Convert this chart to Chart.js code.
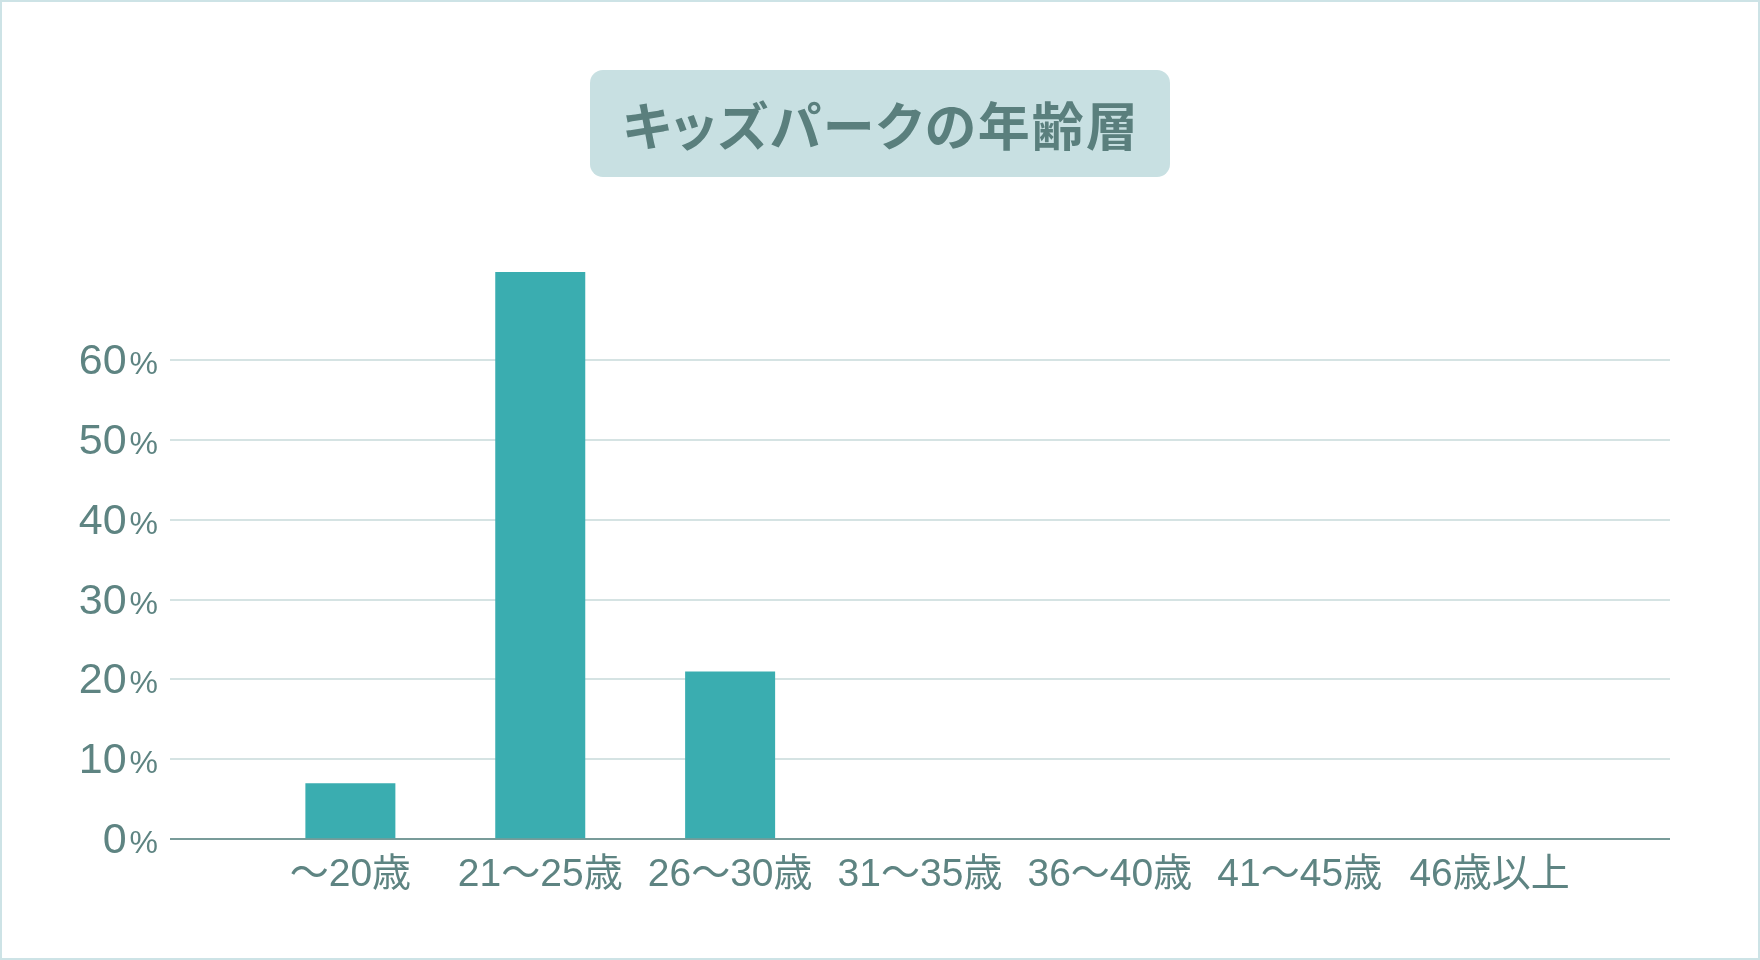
<!DOCTYPE html>
<html lang="ja">
<head>
<meta charset="utf-8">
<title>キッズパークの年齢層</title>
<script src="https://cdn.jsdelivr.net/npm/chart.js@4.4.1/dist/chart.umd.min.js"></script>
<style>
  body { margin: 0; background: #fff; }
  #wrap {
    position: relative;
    width: 1760px; height: 960px;
    box-sizing: border-box;
    border: 2px solid #cde3e6;
    overflow: hidden;
  }
  #chart { position: absolute; left: -2px; top: -2px; }
  #title {
    position: absolute;
    left: 588px; top: 68px;
    width: 580px; height: 107px;
    box-sizing: border-box;
    padding-left: 2px;
    border-radius: 13px;
    background: #c8e0e2;
    color: #5a7f7d;
    font: bold 52px "Noto Sans CJK JP", sans-serif;
    font-feature-settings: "palt";
    letter-spacing: 2px;
    line-height: 107px;
    text-align: center;
  }
</style>
</head>
<body>
<div id="wrap">
  <canvas id="chart" width="1760" height="960"></canvas>
  <div id="title">キッズパークの年齢層</div>
</div>
<script>
// age groups and share of visitors (%)
const categories = ["〜20歳", "21〜25歳", "26〜30歳", "31〜35歳", "36〜40歳", "41〜45歳", "46歳以上"];
const shares = [7, 71, 21, 0, 0, 0, 0];
const yTickValues = [0, 10, 20, 30, 40, 50, 60];

const textColor = "#5e8482";

// y labels: big number + smaller "%"
const yLabels = {
  id: "yLabels",
  afterDraw(chart) {
    let ctx = chart.ctx;
    let y = chart.scales.y;
    let right = chart.chartArea.left - 12;
    ctx.save();
    ctx.fillStyle = textColor;
    ctx.textAlign = "right";
    ctx.textBaseline = "alphabetic";
    y.ticks.forEach(t => {
      let py = y.getPixelForValue(t.value) + 14;
      ctx.font = '32px "Liberation Sans", Arial, sans-serif';
      ctx.fillText("%", right, py);
      let w = ctx.measureText("%").width;
      ctx.font = '43px "Liberation Sans", Arial, sans-serif';
      ctx.fillText(String(t.value), right - w - 3, py);
    });
    ctx.restore();
  }
};

new Chart(document.getElementById("chart"), {
  type: "bar",
  data: {
    datasets: [{
      data: shares.map((v, i) => ({ x: i, y: v })),
      backgroundColor: "#3aadb0",
      borderWidth: 0,
      categoryPercentage: 1,
      barPercentage: 0.474
    }]
  },
  options: {
    responsive: false,
    animation: false,
    layout: { padding: { left: 170, right: 90, top: 240, bottom: 48 } },
    plugins: {
      legend: { display: false },
      tooltip: { enabled: false }
    },
    scales: {
      x: {
        type: "linear",
        offset: false,
        min: -0.95,
        max: 6.95,
        afterBuildTicks: axis => { axis.ticks = categories.map((c, i) => ({ value: i })); },
        grid: { display: false, drawTicks: false },
        border: { display: false },
        ticks: {
          autoSkip: false,
          maxRotation: 0,
          padding: 13,
          color: textColor,
          font: { family: '"Liberation Sans Narrow", "Liberation Sans", "Noto Sans CJK JP", sans-serif', size: 39 },
          callback: v => categories[v]
        }
      },
      y: {
        min: 0,
        max: 75,
        afterBuildTicks: axis => { axis.ticks = yTickValues.map(v => ({ value: v })); },
        grid: {
          drawTicks: false,
          lineWidth: 2,
          color: c => c.tick && c.tick.value === 0 ? "#789b99" : "#d5e3e3"
        },
        border: { display: false },
        ticks: { display: false }
      }
    }
  },
  plugins: [yLabels]
});
</script>
</body>
</html>
